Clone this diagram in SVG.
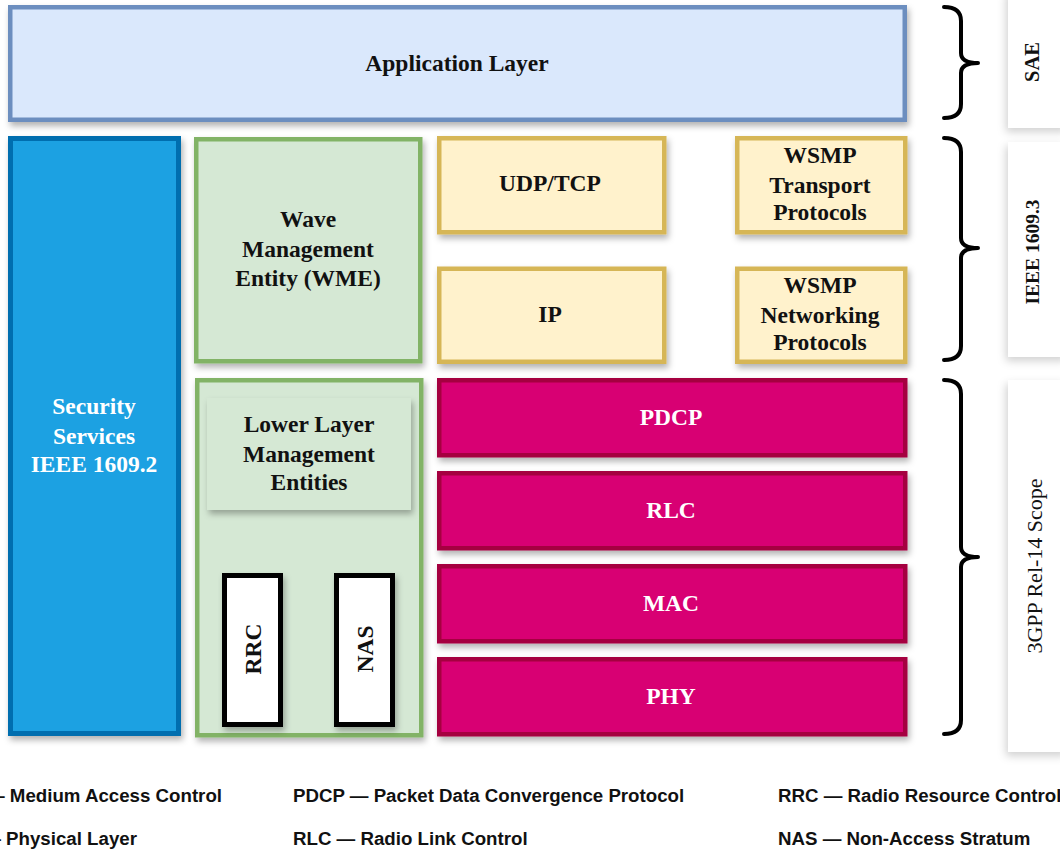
<svg xmlns="http://www.w3.org/2000/svg" width="1060" height="849" viewBox="0 0 1060 849">
  <defs>
    <filter id="shadow" x="-10%" y="-10%" width="130%" height="130%">
      <feDropShadow dx="2" dy="4" stdDeviation="3" flood-color="#000" flood-opacity="0.3"/>
    </filter>
    <filter id="softShadow" x="-20%" y="-10%" width="150%" height="130%">
      <feDropShadow dx="-2" dy="4" stdDeviation="4" flood-color="#000" flood-opacity="0.18"/>
    </filter>
    <style>
      .blue { fill: #dae8fc; stroke: #6c8ebf; stroke-width: 4.5; filter: url(#shadow); }
      .sec { fill: #1ba1e2; stroke: #006eaf; stroke-width: 5; filter: url(#shadow); }
      .green { fill: #d5e8d4; stroke: #82b366; stroke-width: 4.5; filter: url(#shadow); }
      .yellow { fill: #fff2cc; stroke: #d6b656; stroke-width: 4.5; filter: url(#shadow); }
      .magenta { fill: #d80073; stroke: #a50040; stroke-width: 4.5; filter: url(#shadow); }
      .inner { fill: #d5e8d4; stroke: none; filter: url(#shadow); }
      .white { fill: #ffffff; stroke: #000000; stroke-width: 5; filter: url(#shadow); }
      .scope { fill: #ffffff; stroke: none; filter: url(#softShadow); }
      .brace { fill: none; stroke: #000; stroke-width: 4; stroke-linecap: round; stroke-linejoin: round; }
      .t { font-family: "Liberation Serif", "Times New Roman", serif; font-weight: bold; font-size: 23.5px; text-anchor: middle; fill: #111; }
      .tw { fill: #ffffff; }
      .ts { font-family: "Liberation Serif", "Times New Roman", serif; font-size: 21px; text-anchor: middle; fill: #111; }
      .legend { font-family: "Liberation Sans", Arial, sans-serif; font-weight: bold; font-size: 18.7px; fill: #111; }
    </style>
  </defs>

  <!-- Application layer -->
  <g id="app-layer">
    <rect class="blue" x="10.25" y="7.25" width="894.5" height="112.5"/>
    <text class="t" x="457" y="71">Application Layer</text>
  </g>

  <!-- Security services column -->
  <g id="security">
    <rect class="sec" x="10.5" y="138.5" width="168" height="595"/>
    <text class="t tw" x="94" y="414">Security</text>
    <text class="t tw" x="94" y="444">Services</text>
    <text class="t tw" x="94" y="472">IEEE 1609.2</text>
  </g>

  <!-- Management entities -->
  <g id="wme">
    <rect class="green" x="196.25" y="139.25" width="224" height="222"/>
    <text class="t" x="308" y="227">Wave</text>
    <text class="t" x="308" y="257">Management</text>
    <text class="t" x="308" y="286">Entity (WME)</text>
  </g>

  <g id="lower-layer">
    <rect class="green" x="197.25" y="380.25" width="224" height="355"/>
    <g id="llme">
      <rect class="inner" x="207" y="398" width="204" height="112"/>
      <text class="t" x="309" y="432">Lower Layer</text>
      <text class="t" x="309" y="462">Management</text>
      <text class="t" x="309" y="490">Entities</text>
    </g>
    <g id="rrc">
      <rect class="white" x="224.5" y="575.5" width="56" height="149"/>
      <text class="t" transform="translate(253 649) rotate(-90)" y="8">RRC</text>
    </g>
    <g id="nas">
      <rect class="white" x="336.5" y="575.5" width="56" height="149"/>
      <text class="t" transform="translate(365 649) rotate(-90)" y="8">NAS</text>
    </g>
  </g>

  <!-- IEEE 1609.3 transport / network -->
  <g id="udp-tcp">
    <rect class="yellow" x="439.25" y="138.25" width="225" height="94"/>
    <text class="t" x="550" y="191">UDP/TCP</text>
  </g>
  <g id="wsmp-transport">
    <rect class="yellow" x="737.25" y="138.25" width="168" height="94"/>
    <text class="t" x="820" y="163">WSMP</text>
    <text class="t" x="820" y="193">Transport</text>
    <text class="t" x="820" y="220">Protocols</text>
  </g>
  <g id="ip">
    <rect class="yellow" x="439.25" y="268.75" width="225" height="93"/>
    <text class="t" x="550" y="322">IP</text>
  </g>
  <g id="wsmp-networking">
    <rect class="yellow" x="737.25" y="268.75" width="168" height="93"/>
    <text class="t" x="820" y="293">WSMP</text>
    <text class="t" x="820" y="323">Networking</text>
    <text class="t" x="820" y="350">Protocols</text>
  </g>

  <!-- 3GPP radio stack -->
  <g id="pdcp">
    <rect class="magenta" x="439.25" y="380.25" width="466" height="75"/>
    <text class="t tw" x="671" y="425">PDCP</text>
  </g>
  <g id="rlc">
    <rect class="magenta" x="439.25" y="473.25" width="466" height="75"/>
    <text class="t tw" x="671" y="518">RLC</text>
  </g>
  <g id="mac">
    <rect class="magenta" x="439.25" y="566.25" width="466" height="75"/>
    <text class="t tw" x="671" y="611">MAC</text>
  </g>
  <g id="phy">
    <rect class="magenta" x="439.25" y="659.25" width="466" height="75"/>
    <text class="t tw" x="671" y="704">PHY</text>
  </g>

  <!-- Scope braces -->
  <g id="braces">
    <path class="brace" d="M944 7 Q961 7 961 21 L961 53 Q961 63 978 63 Q961 63 961 73 L961 104 Q961 118 944 118"/>
    <path class="brace" d="M944 138 Q961 138 961 152 L961 238 Q961 248 978 248 Q961 248 961 258 L961 346 Q961 360 944 360"/>
    <path class="brace" d="M944 380 Q961 380 961 394 L961 547 Q961 557 978 557 Q961 557 961 567 L961 720 Q961 734 944 734"/>
  </g>

  <!-- Scope labels -->
  <g id="scope-sae">
    <rect class="scope" x="1008" y="-10" width="60" height="138"/>
    <text class="t" style="font-size:20.5px" transform="translate(1032 62) rotate(-90)" y="7">SAE</text>
  </g>
  <g id="scope-ieee">
    <rect class="scope" x="1008" y="142" width="60" height="215"/>
    <text class="t" style="font-size:19.5px" transform="translate(1032 252) rotate(-90)" y="7">IEEE 1609.3</text>
  </g>
  <g id="scope-3gpp">
    <rect class="scope" x="1008" y="380" width="60" height="372"/>
    <text class="ts" style="font-size:22px" transform="translate(1035 566) rotate(-90)" y="7">3GPP Rel-14 Scope</text>
  </g>

  <!-- Abbreviations; the first column runs past the left edge -->
  <g id="legend">
    <text class="legend" x="222" y="802" text-anchor="end">MAC — Medium Access Control</text>
    <text class="legend" x="137" y="845" text-anchor="end">PHY — Physical Layer</text>
    <text class="legend" x="293" y="802">PDCP — Packet Data Convergence Protocol</text>
    <text class="legend" x="293" y="845">RLC — Radio Link Control</text>
    <text class="legend" x="778" y="802">RRC — Radio Resource Control</text>
    <text class="legend" x="778" y="845">NAS — Non-Access Stratum</text>
  </g>
</svg>
